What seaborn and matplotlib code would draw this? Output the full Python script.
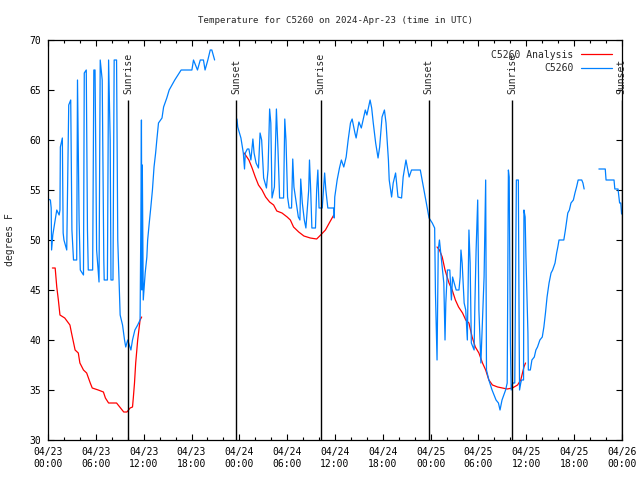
import pandas as pd
import numpy as np
import matplotlib
matplotlib.use('Agg')
import matplotlib.pyplot as plt
import seaborn as sns
from matplotlib.ticker import MultipleLocator, FuncFormatter
from matplotlib.lines import Line2D

# hours since 2024-04-23 00:00 UTC, temperature in F
obs_hours_1 = [0.0, 0.3, 0.4, 0.45, 0.6, 0.9, 1.1, 1.4, 1.5, 1.55, 1.8, 1.9, 2.0, 2.35, 2.6, 2.85, 3.0,
               3.2, 3.6, 3.7, 3.9, 4.05, 4.45, 4.55, 4.8, 4.95, 5.05, 5.6, 5.75, 5.9, 6.1, 6.4, 6.55,
               6.8, 7.0, 7.05, 7.45, 7.6, 7.8, 7.9, 8.15, 8.3, 8.6, 8.75, 9.05, 9.35, 9.6, 9.75, 10.0,
               10.2, 10.4, 10.6, 10.9, 11.25, 11.55, 11.65, 11.72, 11.78, 11.83, 11.95, 12.19, 12.4,
               12.5, 12.7, 12.9, 13.1, 13.3, 13.5, 13.65, 13.86, 14.3, 14.5, 14.9, 15.2, 15.9, 16.7,
               18.05, 18.25, 18.75, 19.1, 19.5, 19.7, 20.05, 20.35, 20.55, 20.9]
obs_temps_1 = [54.1, 54.0, 53.2, 49, 50.5, 52, 53, 52.5, 53.0, 59.3, 60.2, 50.7, 50.0, 49, 63.5, 64, 51,
               48, 48, 66, 52, 47, 46.5, 66.7, 67, 51, 47, 47, 67, 67, 49, 45.8, 68,
               66, 48, 46, 46, 68, 60, 46, 46, 68, 68, 50, 42.5, 41.5, 40, 39.3, 40,
               39.5, 39, 40, 41, 41.5, 42, 52, 62, 45, 57.5, 44, 46.7, 48.3,
               50, 51.7, 53.3, 55, 57.3, 58.7, 60, 61.7, 62.2, 63.3, 64.2, 65, 66, 67,
               67, 68, 67, 68, 68, 67, 68, 69, 69, 68]

obs_hours_2 = [23.7, 23.8, 24.2, 24.5, 24.65, 24.75, 25.0, 25.2, 25.45, 25.7, 25.85, 26.1, 26.4, 26.6,
               26.8, 27.05, 27.4, 27.6, 27.8, 27.95, 28.1, 28.4, 28.65, 28.85, 29.05, 29.55, 29.7,
               29.85, 30.05, 30.25, 30.55, 30.7, 30.85, 31.15, 31.4, 31.6, 31.7, 31.9, 32.15, 32.35,
               32.7, 32.8, 32.95, 33.1, 33.55, 33.7, 33.85, 34.0, 34.4, 34.55, 34.7, 34.85, 35.1,
               35.85, 35.9, 35.97, 36.27, 36.56, 36.8, 37.1, 37.4, 37.65, 37.94, 38.15, 38.5, 38.65,
               39.0, 39.3, 39.6, 39.8, 40.0, 40.4, 40.6, 40.8, 41.1, 41.4, 41.6, 41.9, 42.2, 42.4,
               42.7, 42.8, 43.1, 43.3, 43.6, 43.9, 44.35, 44.55, 44.9, 45.3, 45.6, 46.7, 47.0, 47.4,
               47.8, 48.2, 48.5, 48.6, 48.8, 48.95, 49.1, 49.4, 49.65, 49.8, 49.9, 50.1, 50.4, 50.6,
               50.75, 50.95, 51.2, 51.55, 51.7, 51.8, 51.95, 52.2, 52.4, 52.6, 52.8, 52.95, 53.1,
               53.45, 53.55, 53.7, 53.9, 54.05, 54.3, 54.5, 54.7, 54.9, 55.0, 55.3, 55.7, 56.2, 56.5,
               56.7, 56.95, 57.4, 57.6, 57.75, 57.85, 58.0, 58.1, 58.3, 58.55, 58.75, 59.0, 59.1,
               59.15, 59.3, 59.4, 59.65, 59.7, 59.85, 59.95, 60.2, 60.25, 60.5, 60.7, 61.0, 61.2,
               61.4, 61.7, 62.0, 62.2, 62.4, 62.6, 62.85, 63.1, 63.3, 63.6, 63.8, 63.95, 64.1, 64.7,
               64.9, 65.2, 65.4, 65.6, 65.9, 66.1, 66.3, 66.5, 66.95, 67.1, 67.25]
obs_temps_2 = [62.1, 61.3, 60.2, 58.7, 57.1, 58.7, 59.1, 59.1, 58, 60.1, 58.7, 57.7, 57.2, 60.7,
               60, 56.2, 55.2, 57, 63.1, 61.7, 54.2, 55.3, 63.1, 59, 54.2, 54.2, 62.1,
               60, 54.3, 53.2, 53.2, 58.1, 55.3, 53.7, 52.3, 52, 56.1, 53.7, 52, 51.2,
               55, 58, 55, 51.2, 51.2, 55, 57, 53.2, 53.2, 55, 56.7, 55, 53.2,
               53.2, 52.2, 54.3, 56, 57.2, 58, 57.3, 58.3, 60, 61.7, 62.1, 60.7, 60.2,
               61.8, 61.2, 62.3, 63, 62.5, 64, 63.2, 61.7, 59.7, 58.2, 59.3, 62.3, 63, 61.7,
               58, 56, 54.3, 55.7, 56.7, 54.3, 54.2, 56.3, 58, 56.3, 57, 57, 55.7, 54,
               52.2, 51.7, 51.2, 44.7, 38, 49, 50, 47.7, 45.7, 40, 43.7, 47, 47, 44,
               46.3, 45.7, 45, 45, 46.3, 49, 47.7, 43.7, 43, 40, 51, 47.7, 39.7,
               39, 43.7, 49, 54, 43, 37.7, 42, 46.3, 56, 37, 36, 35, 34, 33.7,
               33, 34, 35, 35.7, 57, 56.3, 39.7, 35, 35.7, 35.7, 56, 56, 40.3,
               35, 35.7, 36, 36, 53, 52.3, 48.3, 40.7, 37, 37, 38, 38.3, 39,
               39.3, 40, 40.3, 41.3, 42.7, 44.3, 45.7, 46.7, 47, 47.7, 48.7, 49.3, 50, 50,
               51, 52.7, 53, 53.7, 54, 54.7, 55.3, 56, 56, 55.7, 55.1]

obs_hours_3 = [69.1, 69.9, 70.0, 71.0, 71.1, 71.5, 71.7, 71.85, 71.95]
obs_temps_3 = [57.1, 57.1, 56, 56, 55.1, 55.1, 53.7, 53.7, 52.6]

ana_hours_1 = [0.55, 0.9, 1.1, 1.3, 1.5, 2.1, 2.75, 2.95, 3.4, 3.8, 4.0, 4.45, 4.85, 5.3, 5.55, 6.3,
               6.95, 7.2, 7.6, 8.6, 9.0, 9.5, 9.9, 10.3, 10.6, 10.7, 10.85, 11.0, 11.25, 11.55, 11.75]
ana_temps_1 = [47.2, 47.2, 45.3, 44, 42.5, 42.2, 41.5, 40.7, 39, 38.7, 37.7, 37, 36.7, 35.7, 35.2, 35,
               34.8, 34.2, 33.7, 33.7, 33.3, 32.8, 32.8, 33.2, 33.3, 34.2, 35.7, 37.7, 40, 42, 42.3]
ana_hours_2 = [24.6, 25.2, 25.6, 26.0, 26.4, 26.85, 27.3, 27.8, 28.3, 28.7, 29.35, 30.0, 30.4, 30.8,
               31.45, 32.1, 32.9, 33.7, 34.2, 34.8, 35.35, 35.85]
ana_temps_2 = [58.7, 58, 57.2, 56.3, 55.5, 55, 54.3, 53.8, 53.5, 52.9, 52.7, 52.3, 52, 51.3,
               50.8, 50.4, 50.2, 50.1, 50.5, 51, 51.8, 52.5]
ana_hours_3 = [48.8, 49.1, 49.45, 49.8, 50.3, 50.7, 51.1, 51.5, 52.0, 52.4, 52.8, 53.2, 53.6, 54.05,
               54.5, 54.9, 55.3, 55.75, 56.4, 57.0, 57.6, 58.25, 58.9, 59.3, 59.7, 59.9]
ana_temps_3 = [49.3, 49, 48.3, 47, 45.7, 45, 44, 43.3, 42.7, 42, 41.7, 40.3, 39.3, 38.7,
               37.7, 37, 36, 35.5, 35.3, 35.2, 35.1, 35.2, 35.5, 36, 37.3, 37.7]

sun_hours = [10.05, 23.6, 34.2, 47.75, 58.2, 71.95]
sun_labels = ['Sunrise', 'Sunset', 'Sunrise', 'Sunset', 'Sunrise', 'Sunset']

title = 'Temperature for C5260 on 2024-Apr-23 (time in UTC)'

frames = []
segs = [('C5260 Analysis', ana_hours_1, ana_temps_1), ('C5260 Analysis', ana_hours_2, ana_temps_2),
        ('C5260 Analysis', ana_hours_3, ana_temps_3), ('C5260', obs_hours_1, obs_temps_1),
        ('C5260', obs_hours_2, obs_temps_2), ('C5260', obs_hours_3, obs_temps_3)]
for i, (name, h, t) in enumerate(segs):
    frames.append(pd.DataFrame({'hours': h, 'temp': t, 'series': name, 'seg': i}))
df = pd.concat(frames, ignore_index=True)

sns.set_style('ticks')
plt.rcParams['font.family'] = ['DejaVu Sans Mono']
colors = {'C5260 Analysis': '#ff0000', 'C5260': '#0080ff'}

fig = plt.figure(figsize=(6.4, 4.8), dpi=100)
ax = fig.add_axes([48 / 640, 40 / 480, 574 / 640, 400 / 480])

sns.lineplot(data=df, x='hours', y='temp', hue='series', units='seg', estimator=None, sort=False,
             palette=colors, hue_order=['C5260 Analysis', 'C5260'], linewidth=0.9, ax=ax, legend=False)

ax.vlines(sun_hours, 30, 64, color='black', lw=1.0)
for h, lab in zip(sun_hours, sun_labels):
    ax.text(h, 64.6, lab, rotation=90, ha='center', va='bottom', fontsize=7)

ax.set_xlim(0, 72)
ax.set_ylim(30, 70)
ax.xaxis.set_major_locator(MultipleLocator(6))
ax.xaxis.set_minor_locator(MultipleLocator(2))
ax.yaxis.set_major_locator(MultipleLocator(5))
ax.xaxis.set_major_formatter(FuncFormatter(
    lambda v, p: '04/%02d\n%02d:00' % (23 + int(v) // 24, int(v) % 24)))
ax.tick_params(which='both', direction='in', top=True, right=True, labelsize=7, width=0.8, colors='black')
ax.tick_params(which='major', length=4.5, pad=5)
ax.tick_params(which='minor', length=2.2)
for s in ax.spines.values():
    s.set_linewidth(0.9)
    s.set_color('black')

ax.set_xlabel('')
ax.set_ylabel('degrees F', fontsize=7, labelpad=10)
ax.set_title(title, fontsize=6.6, pad=12)

handles = [Line2D([], [], color=colors['C5260 Analysis'], lw=0.9),
           Line2D([], [], color=colors['C5260'], lw=0.9)]
ax.legend(handles, ['C5260 Analysis', 'C5260'], loc='upper right', frameon=False, markerfirst=False,
          fontsize=7, handlelength=3.2, handletextpad=0.8, labelspacing=0.35, borderaxespad=0.6)

fig.savefig('out.png', dpi=100)
